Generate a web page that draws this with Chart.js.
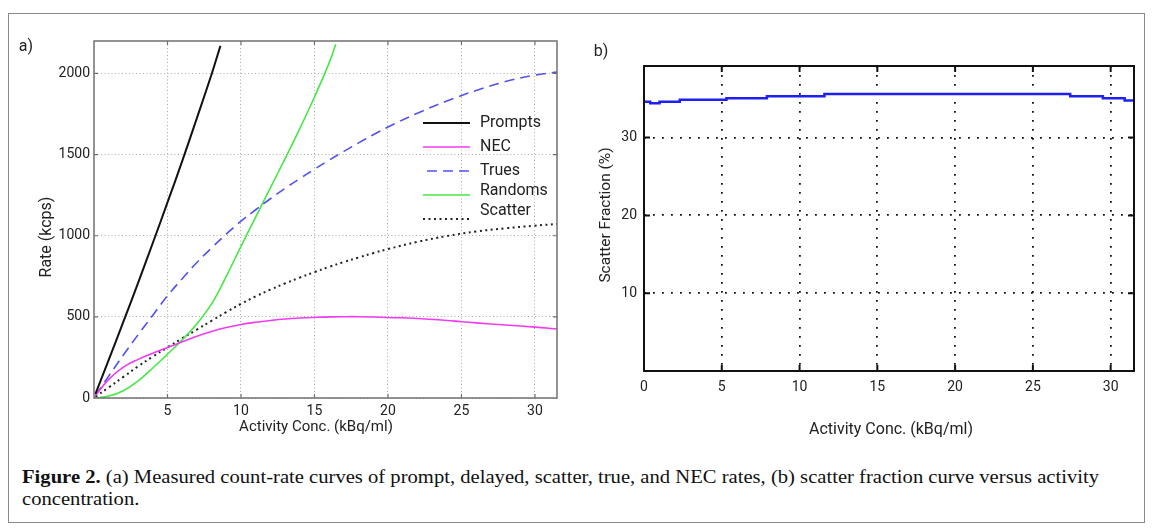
<!DOCTYPE html>
<html><head><meta charset="utf-8">
<script src="https://cdn.jsdelivr.net/npm/chart.js@4.4.1/dist/chart.umd.min.js"></script>
<style>
html,body{margin:0;padding:0;background:#fff;}
body{width:1153px;height:531px;position:relative;overflow:hidden;font-family:Roboto,sans-serif;}
#frame{position:absolute;left:8px;top:13px;width:1137px;height:510px;border:1.5px solid #8a8a8a;box-sizing:border-box;}
.cv{position:absolute;top:0;height:440px;}
.lbl{position:absolute;color:#222;font-family:Roboto,sans-serif;white-space:nowrap;transform:translate(-50%,-50%);}
.rot{transform:translate(-50%,-50%) rotate(-90deg);}
#cap{position:absolute;left:22px;top:466px;font-family:'Liberation Serif',serif;font-size:19px;color:#111;line-height:22px;transform-origin:0 0;white-space:nowrap;}
</style></head><body>
<div id="frame"></div>
<div class="cv" style="left:0;width:580px;"><canvas id="ca" width="580" height="440"></canvas></div>
<div class="cv" style="left:580px;width:573px;"><canvas id="cb" width="573" height="440"></canvas></div>
<div class="lbl" style="left:26px;top:45px;font-size:16px;">a)</div>
<div class="lbl" style="left:601px;top:50px;font-size:16px;">b)</div>
<div class="lbl rot" style="left:45px;top:237px;font-size:16px;">Rate (kcps)</div>
<div class="lbl" style="left:316px;top:426px;font-size:15px;">Activity Conc. (kBq/ml)</div>
<div class="lbl rot" style="left:605px;top:215px;font-size:15.5px;">Scatter Fraction (%)</div>
<div class="lbl" style="left:891px;top:428px;font-size:16px;">Activity Conc. (kBq/ml)</div>
<div id="cap"><div><span id="cap1"><b>Figure 2.</b> (a) Measured count-rate curves of prompt, delayed, scatter, true, and NEC rates, (b) scatter fraction curve versus activity</span></div><div>concentration.</div></div>
<script>
// ---------- data (panel a) ----------
const promptsX = [0.1,1,2,3,4,5,6,7,8,8.6];
const promptsY = [25,235,470,710,955,1205,1460,1725,1995,2170];
const necX = [0.1,1,2,3,4,5,6,7,8,9,10,11,12,13,14,15,16,17,18,19,20,22,24,25,26,28,30,31.5];
const necY = [15,115,190,238,276,311,346,381,410,434,453,467,478,487,493,497,500,501,501,499,496,490,478,470,463,450,437,425];
const truesX = [0.1,1,2,3,4,5,6,7,8,9,10,11,12,13,14,15,16,17,18,19,20,22,24,26,28,30,31.5];
const truesY = [16,135,265,390,510,630,735,835,925,1010,1090,1160,1228,1292,1352,1410,1466,1520,1572,1622,1670,1755,1830,1895,1950,1990,2008];
const randomsX = [0,1,2,3,4,5,6,7,8,9,10,11,12,13,14,15,16,16.45];
const randomsY = [0,12,45,105,185,270,358,458,580,750,935,1115,1295,1475,1660,1855,2065,2180];
const scatterX = [0.1,1,2,3,4,5,6,7,8,9,10,11,12,13,14,15,16,17,18,19,20,22,24,26,28,30,31.5];
const scatterY = [8,65,130,195,255,312,368,422,476,529,580,626,668,706,742,776,808,838,866,893,918,962,998,1026,1046,1062,1072];
const xTicksA = [5,10,15,20,25,30];
const yTicksA = [0,500,1000,1500,2000];
// ---------- data (panel b) ----------
const sfX = [0,0.4,1.0,2.3,5.3,7.9,11.6,27.4,29.5,30.9,31.5];
const sfY = [34.6,34.4,34.6,34.85,35.05,35.3,35.6,35.3,35.05,34.75,34.75];
const xTicksB = [0,5,10,15,20,25,30];
const yTicksB = [10,20,30];

const pts = (xs, ys) => xs.map((x, i) => ({x, y: ys[i]}));
const plain = v => String(v);

const framePlugin = {
  id: 'frame',
  afterDatasetsDraw(chart, args, o) {
    const {ctx, chartArea: a, scales} = chart;
    ctx.save();
    ctx.setLineDash([]);
    ctx.strokeStyle = o.color; ctx.lineWidth = o.width;
    ctx.strokeRect(a.left, a.top, a.right - a.left, a.bottom - a.top);
    if (o.tick) {
      ctx.lineWidth = o.tickWidth;
      ctx.beginPath();
      scales.x.ticks.forEach(t => {
        const x = scales.x.getPixelForValue(t.value);
        if (x <= a.left + 1 || x >= a.right - 1) return;
        ctx.moveTo(x, a.bottom); ctx.lineTo(x, a.bottom - o.tick);
        ctx.moveTo(x, a.top); ctx.lineTo(x, a.top + o.tick);
      });
      scales.y.ticks.forEach(t => {
        const y = scales.y.getPixelForValue(t.value);
        if (y >= a.bottom - 1 || y <= a.top + 1) return;
        ctx.moveTo(a.left, y); ctx.lineTo(a.left + o.tick, y);
        ctx.moveTo(a.right, y); ctx.lineTo(a.right - o.tick, y);
      });
      ctx.stroke();
    }
    ctx.restore();
  }
};

const legendPlugin = {
  id: 'innerLegend',
  afterDatasetsDraw(chart, args, o) {
    if (!o.display) return;
    const ctx = chart.ctx;
    chart.data.datasets.forEach((ds, i) => {
      const y = o.y + i * o.rowGap;
      ctx.save();
      ctx.strokeStyle = ds.borderColor; ctx.lineWidth = ds.borderWidth;
      ctx.setLineDash(ds.borderDash || []);
      ctx.beginPath(); ctx.moveTo(o.x + (o.lineDx[i] || 0), y); ctx.lineTo(o.x + o.len, y); ctx.stroke();
      ctx.setLineDash([]);
      ctx.fillStyle = o.color; ctx.font = o.font; ctx.textBaseline = 'middle'; ctx.textAlign = 'left';
      ctx.fillText(ds.label, o.textX, y + (o.textDy[i] || 0));
      ctx.restore();
    });
  }
};

const tickFont = {family: 'Roboto', size: 14};

new Chart(document.getElementById('ca'), {
  type: 'line',
  data: {
    datasets: [
      {label: 'Prompts', data: pts(promptsX, promptsY), borderColor: '#111111', borderWidth: 2},
      {label: 'NEC', data: pts(necX, necY), borderColor: '#f03cf0', borderWidth: 1.6},
      {label: 'Trues', data: pts(truesX, truesY), borderColor: '#5252ee', borderWidth: 1.6, borderDash: [10, 6]},
      {label: 'Randoms', data: pts(randomsX, randomsY), borderColor: '#45e845', borderWidth: 1.6},
      {label: 'Scatter', data: pts(scatterX, scatterY), borderColor: '#222222', borderWidth: 2, borderDash: [2, 3.5]}
    ]
  },
  options: {
    responsive: false, animation: false, events: [],
    layout: {padding: {left: 0, top: 41, right: 23, bottom: 0}},
    elements: {point: {radius: 0}, line: {tension: 0.4, fill: false}},
    scales: {
      x: {type: 'linear', min: 0, max: 31.5,
          afterBuildTicks: s => { s.ticks = xTicksA.map(v => ({value: v})); },
          afterFit: s => { s.height = 42; },
          grid: {color: '#a8a8a8', lineWidth: 1, drawTicks: false},
          border: {display: false, dash: [1, 2.5]},
          ticks: {color: '#222', font: tickFont, padding: 5, maxRotation: 0, callback: plain}},
      y: {type: 'linear', min: 0, max: 2200,
          afterBuildTicks: s => { s.ticks = yTicksA.map(v => ({value: v})); },
          afterFit: s => { s.width = 94; },
          grid: {color: '#a8a8a8', lineWidth: 1, drawTicks: false},
          border: {display: false, dash: [1, 2.5]},
          ticks: {color: '#222', font: tickFont, padding: 4, callback: plain}}
    },
    plugins: {
      legend: {display: false}, tooltip: {enabled: false},
      frame: {color: '#707070', width: 1.5, tick: 4, tickWidth: 1.2},
      innerLegend: {display: true, x: 423, len: 47, y: 123, rowGap: 24, textX: 480,
        font: '16px Roboto', color: '#222', textDy: [0, 0, 0, -4, -8], lineDx: [0, 0, 4, 0, 0]}
    }
  },
  plugins: [framePlugin, legendPlugin]
});

new Chart(document.getElementById('cb'), {
  type: 'line',
  data: {
    datasets: [
      {label: 'Scatter Fraction', data: pts(sfX, sfY), borderColor: '#1f1ff0', borderWidth: 2.5, stepped: 'before'}
    ]
  },
  options: {
    responsive: false, animation: false, events: [],
    layout: {padding: {left: 0, top: 66, right: 19, bottom: 0}},
    elements: {point: {radius: 0}},
    scales: {
      x: {type: 'linear', min: 0, max: 31.5,
          afterBuildTicks: s => { s.ticks = xTicksB.map(v => ({value: v})); },
          afterFit: s => { s.height = 69; },
          grid: {color: c => (c.tick && c.tick.value === 0) ? 'rgba(0,0,0,0)' : '#111', lineWidth: 1.8, drawTicks: false},
          border: {display: false, dash: [1.8, 7.2]},
          ticks: {color: '#222', font: tickFont, padding: 8, maxRotation: 0, callback: plain}},
      y: {type: 'linear', min: 0, max: 39.2,
          afterBuildTicks: s => { s.ticks = yTicksB.map(v => ({value: v})); },
          afterFit: s => { s.width = 64; },
          grid: {color: '#111', lineWidth: 1.8, drawTicks: false},
          border: {display: false, dash: [1.8, 7.2]},
          ticks: {color: '#222', font: tickFont, padding: 7, callback: plain}}
    },
    plugins: {
      legend: {display: false}, tooltip: {enabled: false},
      frame: {color: '#111', width: 2, tick: 6, tickWidth: 2},
      innerLegend: {display: false}
    }
  },
  plugins: [framePlugin, legendPlugin]
});

// fit caption width to reference
(function(){
  const cap = document.getElementById('cap');
  const w = document.getElementById('cap1').getBoundingClientRect().width;
  const s = 1077 / w;
  cap.style.transform = 'scaleX(' + s + ')';
})();
</script>
</body></html>
